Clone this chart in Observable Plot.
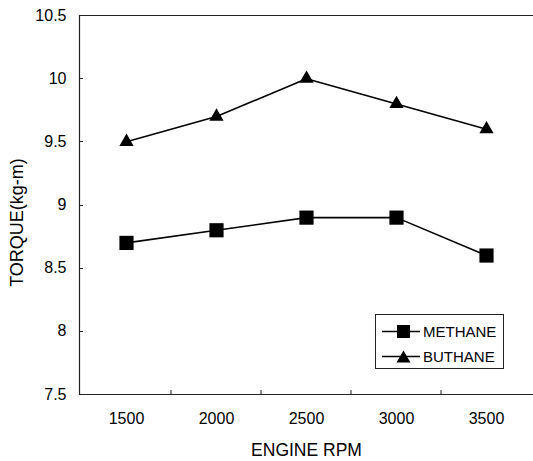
<!DOCTYPE html>
<html>
<head>
<meta charset="utf-8">
<script src="https://cdn.jsdelivr.net/npm/d3@7"></script>
<script src="https://cdn.jsdelivr.net/npm/@observablehq/plot@0.6"></script>
<style>
  html, body { margin: 0; padding: 0; background: #fff; overflow: hidden; }
  #chart { position: relative; width: 533px; height: 461px; overflow: hidden; }
  #chart > svg { max-width: none !important; display: block; }
  #legend {
    position: absolute; left: 375px; top: 314px; width: 129px; height: 55px;
    border: 1px solid #222; background: #fff; box-sizing: border-box;
    font-family: "Liberation Sans", Arial, sans-serif; font-size: 15px; color: #000;
  }
  #legend .row { position: absolute; left: 6px; height: 16px; display: flex; align-items: center; }
  #legend .row span { margin-left: 3px; }
</style>
</head>
<body>
<div id="chart"></div>
<script>
// Engine speed categories (rpm) and measured torque (kg-m) per fuel
const rpm = ["1500", "2000", "2500", "3000", "3500"];
const methane = [8.7, 8.8, 8.9, 8.9, 8.6];
const buthane = [9.5, 9.7, 10.0, 9.8, 9.6];
const yTicks = [7.5, 8, 8.5, 9, 9.5, 10, 10.5];
const seriesNames = ["METHANE", "BUTHANE"];
const xTitle = "ENGINE RPM";
const yTitle = "TORQUE(kg-m)";

const rows = [
  ...rpm.map((r, i) => ({rpm: r, torque: methane[i], fuel: seriesNames[0]})),
  ...rpm.map((r, i) => ({rpm: r, torque: buthane[i], fuel: seriesNames[1]}))
];
const methaneRows = rows.filter(d => d.fuel === seriesNames[0]);
const buthaneRows = rows.filter(d => d.fuel === seriesNames[1]);

// Short inward tick marks: x ticks on interior band boundaries, y ticks on inner values
function inwardTicks(index, scales, values, dimensions) {
  const x = scales.x, y = scales.y;
  const {marginLeft, height, marginBottom} = dimensions;
  const bottom = height - marginBottom;
  const g = d3.create("svg:g").attr("stroke", "#222").attr("fill", "none");
  for (const r of rpm.slice(1)) {
    const bx = x(r);
    g.append("line").attr("x1", bx).attr("x2", bx).attr("y1", bottom).attr("y2", bottom - 4);
  }
  for (const t of yTicks.slice(1, -1)) {
    const ty = Math.round(y(t)) + 0.5;
    g.append("line").attr("x1", marginLeft).attr("x2", marginLeft + 4).attr("y1", ty).attr("y2", ty);
  }
  return g.node();
}

const chart = Plot.plot({
  width: 533,
  height: 461,
  marginLeft: 79,
  marginRight: 0,
  marginTop: 15,
  marginBottom: 67,
  style: {fontFamily: "'Liberation Sans', Arial, sans-serif", fontSize: "16px", color: "#000", background: "#fff"},
  x: {type: "band", domain: rpm, padding: 0},
  y: {domain: [yTicks[0], yTicks[yTicks.length - 1]]},
  marks: [
    Plot.ruleY([yTicks[0], yTicks[yTicks.length - 1]], {stroke: "#222", strokeWidth: 1.2}),
    Plot.frame({anchor: "left", stroke: "#222", strokeWidth: 1.2}),
    inwardTicks,
    Plot.axisX({tickSize: 0, tickPadding: 18, fontSize: 16, label: null}),
    Plot.axisY({ticks: yTicks, tickSize: 0, tickPadding: 13, fontSize: 16, tickFormat: d => String(d), label: null}),
    Plot.text([xTitle], {text: d => d, frameAnchor: "bottom", lineAnchor: "bottom", dy: 61, fontSize: 17.5}),
    Plot.text([yTitle], {text: d => d, frameAnchor: "left", textAnchor: "middle", rotate: -90, dx: -62, dy: 17.5, fontSize: 18}),
    Plot.line(methaneRows, {x: "rpm", y: "torque", stroke: "#000", strokeWidth: 1.6}),
    Plot.line(buthaneRows, {x: "rpm", y: "torque", stroke: "#000", strokeWidth: 1.6}),
    Plot.dot(methaneRows, {x: "rpm", y: "torque", symbol: "square", r: 8, fill: "#000", stroke: "none"}),
    Plot.dot(buthaneRows, {x: "rpm", y: "torque", symbol: "triangle", r: 5.3, fill: "#000", stroke: "none"})
  ]
});
document.getElementById("chart").appendChild(chart);

// Legend box
const legend = document.createElement("div");
legend.id = "legend";
const sym = {
  METHANE: '<rect x="15" y="1" width="13" height="13" fill="#000"/>',
  BUTHANE: '<path d="M21.5 1.5 L28.5 13.5 L14.5 13.5 Z" fill="#000"/>'
};
seriesNames.forEach((name, i) => {
  const row = document.createElement("div");
  row.className = "row";
  row.style.top = (i === 0 ? 8 : 33) + "px";
  row.innerHTML = `<svg width="38" height="15"><line x1="0" x2="38" y1="7.5" y2="7.5" stroke="#000" stroke-width="1.4"/>${sym[name]}</svg><span>${name}</span>`;
  legend.appendChild(row);
});
document.getElementById("chart").appendChild(legend);
</script>
</body>
</html>
